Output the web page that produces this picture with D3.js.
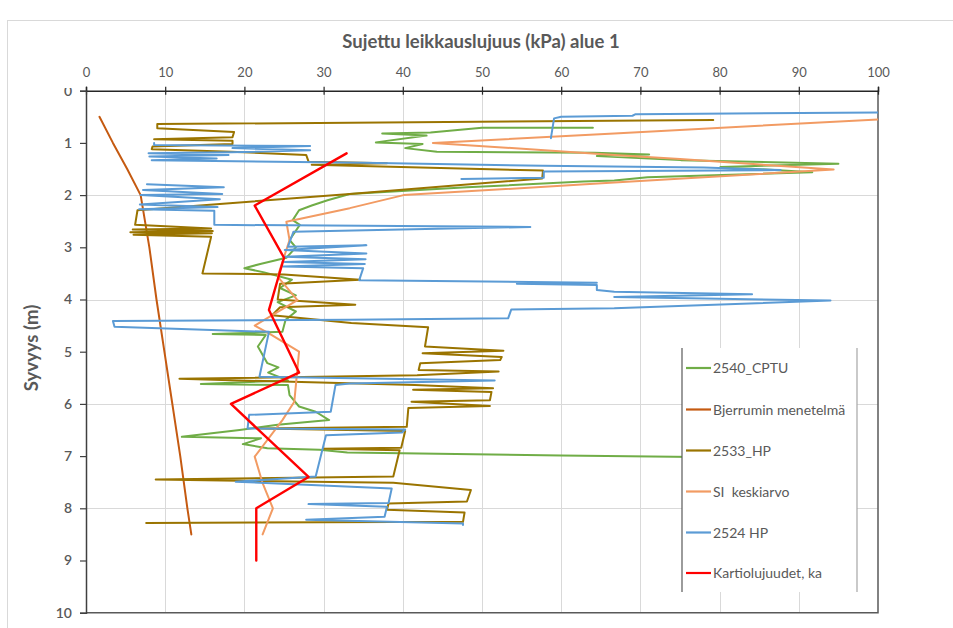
<!DOCTYPE html>
<html>
<head>
<meta charset="utf-8">
<script src="https://cdn.jsdelivr.net/npm/d3@7"></script>
<style>
  html, body { margin: 0; padding: 0; background: #fff; }
  svg { display: block; }
  text { font-family: Lato, "Open Sans", sans-serif; fill: #595959; }
</style>
</head>
<body>
<svg id="chart" width="953" height="628"></svg>
<script>
// Undrained shear strength (kPa) versus depth (m); each point is [kPa, depth].
const xTicks = [0, 10, 20, 30, 40, 50, 60, 70, 80, 90, 100];
const yTicks = [0, 1, 2, 3, 4, 5, 6, 7, 8, 9, 10];

const seriesNames = ["2540_CPTU", "Bjerrumin menetelmä", "2533_HP", "SI  keskiarvo", "2524 HP", "Kartiolujuudet, ka"];
const seriesColors = ["#70AD47", "#C55A11", "#9A7400", "#F29B63", "#5B9BD5", "#FF0000"];

const cptu2540 = [
  [64.0,0.71],[50.0,0.71],[43.5,0.80],[37.4,0.82],[43.0,0.86],[36.6,0.99],[42.5,1.02],[40.3,1.10],
  [44.3,1.17],[64.2,1.19],[71.1,1.22],[64.5,1.25],[75.1,1.33],[95.0,1.40],[80.1,1.46],[91.7,1.56],
  [70.9,1.66],[66.7,1.72],[62.8,1.74],[48.1,1.85],[33.3,1.98],[30.5,2.10],[28.5,2.20],[26.9,2.29],
  [26.1,2.48],[27.0,2.57],[25.7,2.86],[26.5,3.00],[25.3,3.20],[22.0,3.32],[20.0,3.40],[22.5,3.48],
  [26.0,3.62],[24.5,3.78],[26.5,3.92],[24.2,4.05],[26.5,4.23],[25.2,4.39],[24.8,4.62],[16.0,4.66],
  [22.7,4.68],[21.7,4.90],[22.9,5.22],[24.3,5.30],[23.0,5.40],[25.5,5.55],[14.5,5.62],[25.5,5.64],
  [25.7,5.83],[26.9,6.05],[29.0,6.15],[30.7,6.31],[24.2,6.40],[19.4,6.50],[12.1,6.63],[22.1,6.66],
  [19.8,6.77],[22.9,6.85],[29.5,6.88],[33.0,6.93],[60.0,6.99],[90.0,7.04]
];

const bjerrum = [
  [1.7,0.50],[3.4,1.00],[5.2,1.50],[6.9,2.00],[8.0,3.00],[8.9,4.00],[9.9,5.00],
  [10.9,6.00],[11.9,7.00],[12.8,8.00],[13.3,8.50]
];

const hp2533 = [
  [79.2,0.56],[9.0,0.64],[9.0,0.72],[18.7,0.79],[18.5,0.89],[8.6,0.93],[18.5,0.96],[18.5,1.02],
  [8.4,1.07],[8.3,1.12],[18.3,1.17],[27.8,1.23],[28.1,1.36],[38.0,1.39],[28.5,1.42],[57.7,1.53],
  [57.6,1.68],[33.3,1.98],[6.5,2.29],[6.2,2.57],[15.8,2.64],[5.9,2.66],[16.0,2.69],[5.6,2.71],
  [15.9,2.73],[6.0,2.76],[15.8,2.80],[14.7,3.50],[25.0,3.52],[34.6,3.62],[24.5,3.70],[24.2,4.00],
  [34.0,4.10],[24.5,4.15],[23.5,4.30],[33.5,4.45],[43.2,4.53],[42.8,4.90],[52.7,4.98],[42.5,5.03],
  [52.5,5.10],[52.3,5.16],[42.2,5.22],[42.0,5.35],[52.1,5.38],[41.8,5.45],[11.8,5.52],[41.5,5.64],
  [51.4,5.70],[41.3,5.73],[51.2,5.77],[51.0,5.93],[41.1,5.96],[51.0,6.04],[40.7,6.08],[40.5,6.44],
  [22.0,6.47],[40.3,6.52],[39.8,6.84],[30.0,6.86],[39.6,6.89],[38.8,7.39],[8.8,7.45],[38.8,7.51],
  [48.6,7.65],[48.1,7.87],[38.2,7.91],[38.0,8.03],[47.8,8.08],[47.6,8.26],[7.6,8.28]
];

const siAverage = [
  [100,0.55],[66.7,0.82],[43.8,1.00],[66.7,1.23],[75.0,1.31],[94.4,1.51],[66.7,1.76],[40.1,2.00],
  [33.3,2.25],[25.3,2.51],[25.7,2.86],[24.2,3.56],[26.7,4.01],[21.3,4.50],[23.1,4.65],[26.9,5.00],
  [26.3,5.96],[24.8,6.31],[21.3,7.01],[22.3,7.52],[23.6,8.00],[22.3,8.50]
];

// null marks a break in the sounding record
const hp2524 = [
  [100,0.42],[69.4,0.45],[69.0,0.48],[60.0,0.50],[59.1,0.53],[58.7,0.91], null,
  [8.6,1.00],[8.6,1.04],[28.3,1.06],[18.5,1.10],[28.3,1.14],[18.3,1.18],[7.9,1.20],[18.0,1.23],
  [8.0,1.26],[16.5,1.30],[8.3,1.33],[35.0,1.38],[57.7,1.44],[78.0,1.47],[87.7,1.52],[57.8,1.55],
  [57.8,1.67],[47.4,1.69], null,
  [7.7,1.79],[17.4,1.85],[7.2,1.90],[17.2,1.98],[6.9,2.00],[16.9,2.08],[6.8,2.18],[16.6,2.23],
  [6.7,2.27],[16.2,2.30],[16.2,2.57],[56.1,2.61],[26.2,2.70],[25.5,2.99],[35.4,2.96],[25.1,3.05],
  [35.4,3.12],[25.1,3.18],[35.3,3.23],[25.1,3.28],[35.2,3.32],[24.9,3.37],[35.0,3.40],[34.5,3.63],
  [64.5,3.68],[54.4,3.70],[64.5,3.72],[64.5,3.82],[66.7,3.85],[84.1,3.90],[66.7,3.95],[94.0,4.02],
  [66.7,4.17],[53.7,4.19],[53.3,4.36],[33.3,4.39],[3.4,4.41],[3.6,4.52],[23.1,4.62],[21.9,5.48],
  [51.6,5.55],[33.3,5.61],[31.5,5.64],[30.9,6.15],[20.6,6.21],[20.4,6.47],[40.3,6.49],[39.9,6.55],
  [30.3,6.60],[29.0,7.39],[18.9,7.49],[38.6,7.62],[38.2,7.90],[28.1,7.92],[38.0,7.97],[37.7,8.16],
  [27.8,8.22],[47.6,8.29],[47.6,8.32]
];

const coneAverage = [
  [32.9,1.2],[21.3,2.2],[25.0,3.2],[23.1,4.2],[26.9,5.4],[18.3,6.0],[28.1,7.4],[21.5,8.0],[21.5,9.0]
];

const seriesData = [cptu2540, bjerrum, hp2533, siAverage, hp2524, coneAverage];

const svg = d3.select("#chart");

// chart frame
svg.append("rect").attr("x", 7.5).attr("y", 20.5).attr("width", 960).attr("height", 620)
  .attr("fill", "#fff").attr("stroke", "#d9d9d9").attr("stroke-width", 1);

const x = d3.scaleLinear().domain([0, 100]).range([86, 878]);
const y = d3.scaleLinear().domain([0, 10]).range([90.7, 612.7]);

// gridlines
const grid = svg.append("g").attr("stroke", "#d9d9d9").attr("stroke-width", 1);
grid.selectAll("line.v").data(xTicks.filter(t => t > 0 && t < 100)).join("line")
  .attr("x1", d => Math.round(x(d)) + 0.5).attr("x2", d => Math.round(x(d)) + 0.5)
  .attr("y1", y(0)).attr("y2", y(10));
grid.selectAll("line.h").data([2, 4, 6, 8]).join("line")
  .attr("y1", d => Math.round(y(d)) + 0.5).attr("y2", d => Math.round(y(d)) + 0.5)
  .attr("x1", x(0)).attr("x2", x(100));

// plot area border (right and bottom)
svg.append("path")
  .attr("d", `M${x(100)},${y(0)}V${y(10)}H${x(0)}`)
  .attr("fill", "none").attr("stroke", "#595959").attr("stroke-width", 1.5);

// data lines
const defs = svg.append("defs");
defs.append("clipPath").attr("id", "plotClip")
  .append("rect").attr("x", x(0)).attr("y", y(0)).attr("width", x(100) - x(0)).attr("height", y(10) - y(0));

const line = d3.line()
  .defined(d => d !== null)
  .x(d => x(d[0])).y(d => y(d[1]));

const plot = svg.append("g").attr("clip-path", "url(#plotClip)");
seriesData.forEach((data, i) => {
  plot.append("path")
    .datum(data)
    .attr("d", line)
    .attr("fill", "none")
    .attr("stroke", seriesColors[i])
    .attr("stroke-width", i === 5 ? 2.4 : 2)
    .attr("stroke-linejoin", "round")
    .attr("stroke-linecap", "round");
});

// top value axis
const xAxis = svg.append("g").attr("transform", `translate(0,${y(0)})`)
  .call(d3.axisTop(x).tickValues(xTicks).tickSize(4).tickPadding(10).tickFormat(d3.format("d")));
xAxis.select(".domain").attr("stroke", "#262626").attr("stroke-width", 1.5);
xAxis.selectAll(".tick line").attr("stroke", "#262626").attr("stroke-width", 1.2).attr("y1", 4).attr("y2", -4);
xAxis.selectAll(".tick text").attr("font-size", 13).attr("fill", "#595959")
  .style("font-family", "Lato, sans-serif");

// left depth axis; the label area starts just below the top axis line
defs.append("clipPath").attr("id", "yLabelClip")
  .append("rect").attr("x", -90).attr("y", 88).attr("width", 100).attr("height", 560);
const yAxis = svg.append("g").attr("transform", `translate(${x(0)},0)`)
  .attr("clip-path", "url(#yLabelClip)")
  .call(d3.axisLeft(y).tickValues(yTicks).tickSize(6).tickPadding(8).tickFormat(d3.format("d")));
yAxis.select(".domain").attr("stroke", "#404040").attr("stroke-width", 1.5);
yAxis.selectAll(".tick line").attr("stroke", "#404040").attr("stroke-width", 1.2);
yAxis.selectAll(".tick text").attr("font-size", 14).attr("font-weight", 600).attr("fill", "#595959")
  .style("font-family", "Lato, sans-serif");

// titles
svg.append("text").attr("x", 481).attr("y", 48).attr("text-anchor", "middle")
  .attr("font-size", 18.5).attr("font-weight", 700).text("Sujettu leikkauslujuus (kPa) alue 1");
svg.append("text").attr("transform", "translate(38,348) rotate(-90)").attr("text-anchor", "middle")
  .attr("font-size", 18.5).attr("font-weight", 700).text("Syvyys (m)");

// legend
const lg = svg.append("g");
lg.append("rect").attr("x", 682).attr("y", 348).attr("width", 175).attr("height", 244).attr("fill", "#fff");
lg.append("line").attr("x1", 682).attr("x2", 682).attr("y1", 348).attr("y2", 592)
  .attr("stroke", "#595959").attr("stroke-width", 1.2);
lg.append("line").attr("x1", 857).attr("x2", 857).attr("y1", 348).attr("y2", 592)
  .attr("stroke", "#a6a6a6").attr("stroke-width", 1.2);
const legendY = [368, 409.5, 450.5, 491.5, 532.5, 573];
seriesNames.forEach((name, i) => {
  lg.append("line").attr("x1", 686).attr("x2", 711).attr("y1", legendY[i]).attr("y2", legendY[i])
    .attr("stroke", seriesColors[i]).attr("stroke-width", 2.2);
  lg.append("text").attr("x", 713).attr("y", legendY[i] + 5).attr("font-size", 14)
    .style("white-space", "pre").text(name);
});
</script>
</body>
</html>
